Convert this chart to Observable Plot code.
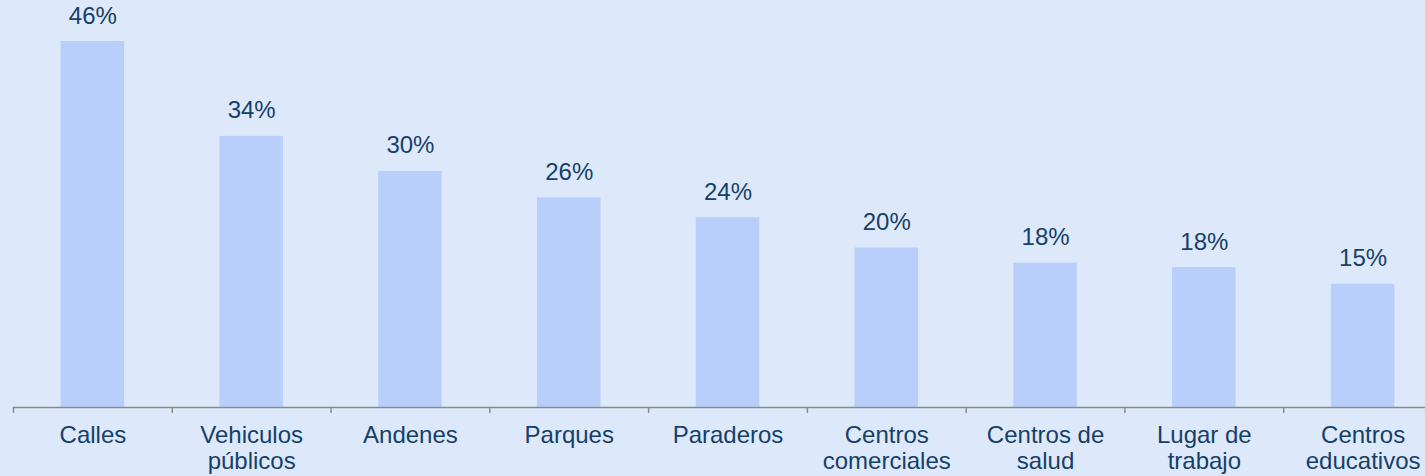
<!DOCTYPE html>
<html>
<head>
<meta charset="utf-8">
<script src="https://cdn.jsdelivr.net/npm/d3@7"></script>
<script src="https://cdn.jsdelivr.net/npm/@observablehq/plot@0.6"></script>
<style>
  html, body { margin: 0; padding: 0; background: #dde9fa; overflow: hidden; }
  #chart svg { display: block; background: #dde9fa; font-family: "Liberation Sans", Arial, sans-serif !important; }
  #chart svg text { font-family: "Liberation Sans", Arial, sans-serif !important; }
</style>
</head>
<body>
<div id="chart"></div>
<script>
const categories = ["Calles", "Vehiculos\npúblicos", "Andenes", "Parques", "Paraderos",
  "Centros\ncomerciales", "Centros de\nsalud", "Lugar de\ntrabajo", "Centros\neducativos"];
const values = [45.9, 34.0, 29.6, 26.3, 23.8, 20.0, 18.1, 17.55, 15.45];

const data = categories.map((c, i) => ({category: c, value: values[i]}));

const W = 1425, H = 476;
const mL = 13, mR = -17;
const step = (W - mL - mR) / categories.length;
const textColor = "#163f69";
const axisColor = "#8a8a8a";

const chart = Plot.plot({
  width: W,
  height: H,
  marginLeft: mL,
  marginRight: mR,
  marginTop: 41,
  marginBottom: 69,
  style: {background: "#dde9fa", overflow: "visible"},
  x: {domain: categories, paddingInner: 0.6, paddingOuter: 0.3, round: false, label: null},
  y: {axis: null, domain: [0, d3.max(values)]},
  marks: [
    Plot.barY(data, {x: "category", y: "value", fill: "#b8cffc"}),
    Plot.text(data, {x: "category", y: "value", text: d => `${Math.round(d.value)}%`,
      lineAnchor: "bottom", dy: -18, fontSize: 24, fill: textColor}),
    Plot.ruleY([0], {stroke: axisColor, strokeWidth: 1.5}),
    Plot.ruleX(data, {x: "category", y1: 0, y2: 0, dx: -step / 2, insetBottom: -6,
      stroke: axisColor, strokeWidth: 1.5}),
    Plot.axisX({tickSize: 0, tickPadding: 17, fontSize: 24, lineHeight: 1.08,
      color: textColor, fill: textColor, label: null})
  ]
});
document.getElementById("chart").appendChild(chart);
</script>
</body>
</html>
